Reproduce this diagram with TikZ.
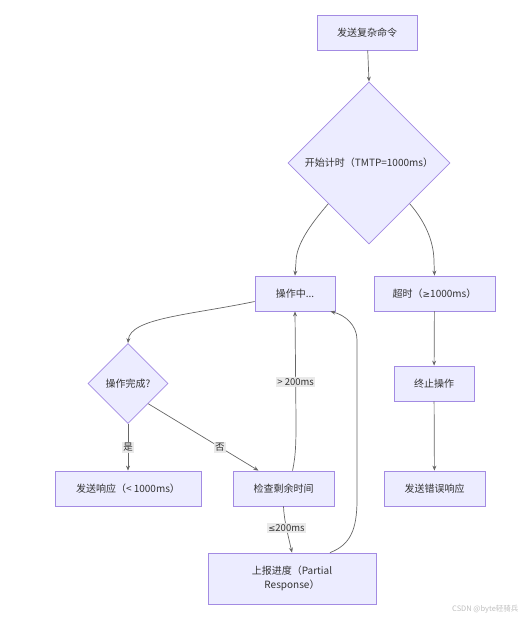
\documentclass[tikz,border=0pt]{standalone}
\usepackage{fontspec}
\setmainfont{Noto Sans CJK SC}
\newfontfamily\symfont{DejaVu Sans}
\usetikzlibrary{shapes.geometric,arrows.meta,calc}
\definecolor{nodefill}{HTML}{ECECFF}
\definecolor{nodeborder}{HTML}{A38BE3}
\definecolor{linecol}{HTML}{666666}
\definecolor{txt}{HTML}{333333}
\definecolor{lblbg}{HTML}{E8E8E8}
\tikzset{
  box/.style={draw=nodeborder, fill=nodefill, line width=0.8pt, inner sep=0pt, text=txt, font=\fontsize{10}{12}\selectfont, align=center},
  dia/.style={draw=nodeborder, fill=nodefill, line width=0.8pt, diamond, aspect=1, inner sep=0pt, text=txt, font=\fontsize{10}{12}\selectfont},
  arr/.style={draw=linecol, line width=0.7pt, -{Stealth[length=5pt,width=4pt]}},
  lbl/.style={fill=lblbg, fill opacity=0.9, text opacity=1, text=txt, inner sep=1.5pt, font=\fontsize{9.5}{11}\selectfont}
}
\begin{document}
\begin{tikzpicture}[x=1pt,y=-1pt]
\useasboundingbox (0,0) rectangle (527,622);
% nodes
\node[box, minimum width=100pt, minimum height=35pt] (cmd) at (367,32.5) {发送复杂命令};
\node[dia, minimum width=162pt, minimum height=162pt] (timer) at (369,163) {开始计时（TMTP=1000ms）};
\node[box, minimum width=80pt, minimum height=35pt] (op) at (295,293.5) {操作中...};
\node[box, minimum width=121pt, minimum height=35pt] (tout) at (434.5,293.5) {超时（{\symfont\fontsize{9}{11}\selectfont ≥}1000ms）};
\node[dia, minimum width=80pt, minimum height=80pt] (done) at (128,383.5) {操作完成?};
\node[box, minimum width=146pt, minimum height=35pt] (resp) at (128,488.5) {发送响应（< 1000ms）};
\node[box, minimum width=101pt, minimum height=35pt] (chk) at (283.5,488.5) {检查剩余时间};
\node[box, minimum width=168pt, minimum height=51pt] (rep) at (292,578.5) {上报进度（Partial\\[2pt]Response）};
\node[box, minimum width=80pt, minimum height=35pt] (stop) at (434,383.5) {终止操作};
\node[box, minimum width=101pt, minimum height=35pt] (err) at (434.5,488.5) {发送错误响应};
% edges
\draw[arr] (cmd) -- (timer.north);
\draw[arr] (timer.south west) .. controls (310,225) and (296,245) .. (296,262) -- (op.north);
\draw[arr] (timer.south east) .. controls (428,225) and (434,245) .. (434,262) -- (tout.north);
\draw[arr] ([yshift=-8pt]op.west) .. controls (190,315) and (130,318) .. (done.north);
\draw[arr] (done.south) -- node[lbl, pos=0.5] {是} (resp.north);
\draw[arr] (done.south east) -- node[lbl, pos=0.65] {否} ([xshift=-25pt]chk.north);
\draw[arr] ([xshift=9pt]chk.north) .. controls (296,455) and (296,440) .. (296,420) -- node[lbl, pos=0.35] {> 200ms} (op.south);
\draw[arr] (chk.south) .. controls (284,520) and (288,535) .. node[lbl, pos=0.5] {{\symfont\fontsize{8.5}{10}\selectfont ≤}200ms} (rep.north);
\coordinate (r1) at (357,500);
\coordinate (r2) at (357,340);
\draw[arr] ([xshift=38pt]rep.north) .. controls (350,545) and (357,530) .. (r1) -- (r2) .. controls (357,325) and (345,315) .. ([xshift=-5pt]op.south east);
\draw[arr] (tout) -- (stop);
\draw[arr] (stop) -- (err);
\node[text=black!25, font=\fontsize{7.5}{9}\selectfont, anchor=east] (wm) at (522,609) {CSDN @byte轻骑兵};
\end{tikzpicture}
\end{document}
